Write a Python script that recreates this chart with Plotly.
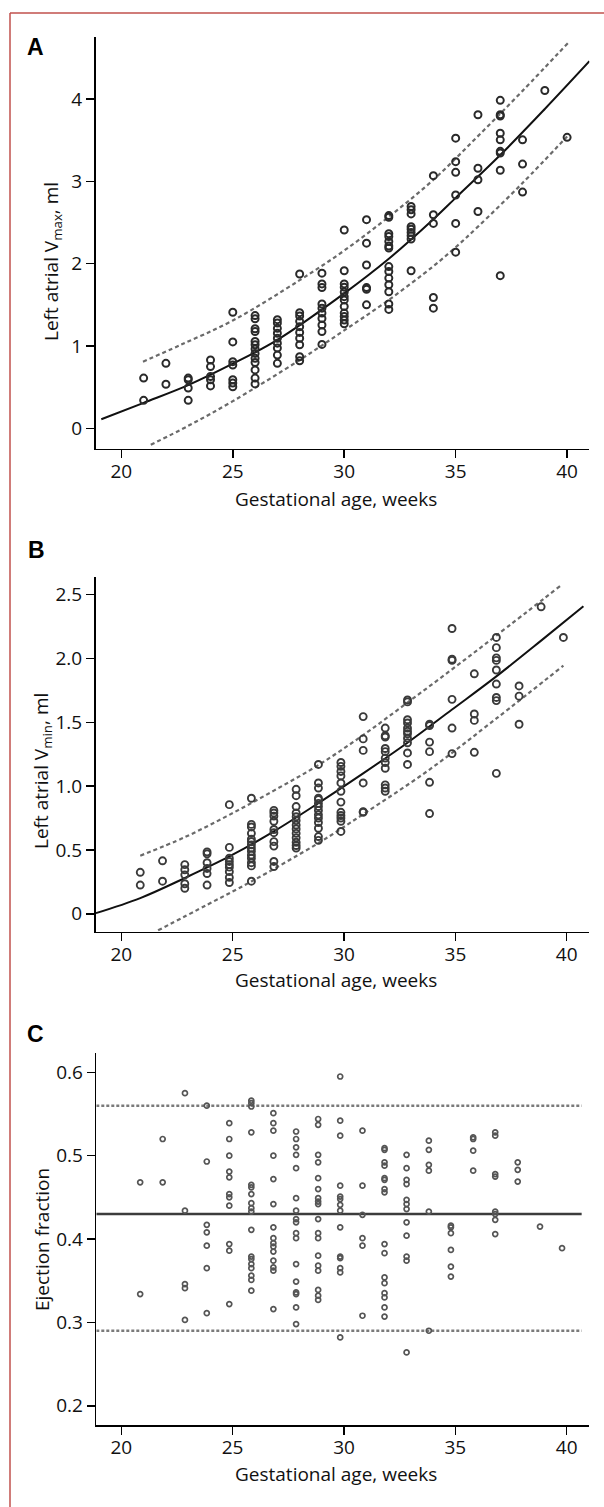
import plotly.graph_objects as go

W, H = 604, 1507

# ---------------- Panel A data (Left atrial Vmax) ----------------
A_weeks = [21, 22, 23, 24, 25, 26, 27, 28, 29, 30, 31, 32, 33, 34, 35, 36, 37, 38, 39, 40]
A_values = [
    [0.61, 0.34],
    [0.79, 0.535],
    [0.61, 0.59, 0.49, 0.34],
    [0.83, 0.75, 0.63, 0.59, 0.515],
    [1.41, 1.05, 0.81, 0.77, 0.59, 0.55, 0.505],
    [1.37, 1.33, 1.21, 1.175, 1.055, 1.015, 0.965, 0.91, 0.85, 0.80, 0.71, 0.61, 0.54],
    [1.32, 1.28, 1.215, 1.155, 1.095, 1.035, 0.975, 0.89, 0.79],
    [1.875, 1.405, 1.365, 1.30, 1.235, 1.165, 1.095, 1.015, 0.87, 0.82],
    [1.885, 1.755, 1.71, 1.51, 1.46, 1.40, 1.335, 1.255, 1.175, 1.02],
    [2.41, 1.915, 1.755, 1.715, 1.655, 1.60, 1.56, 1.48, 1.40, 1.36, 1.315, 1.27],
    [2.535, 2.25, 1.985, 1.71, 1.69, 1.50],
    [2.585, 2.565, 2.365, 2.33, 2.27, 2.215, 2.19, 1.965, 1.905, 1.825, 1.745, 1.66, 1.51, 1.445],
    [2.695, 2.655, 2.605, 2.45, 2.42, 2.38, 2.34, 2.30, 1.915],
    [3.07, 2.595, 2.49, 1.59, 1.46],
    [3.525, 3.24, 3.11, 2.835, 2.49, 2.14],
    [3.81, 3.16, 3.02, 2.635],
    [3.985, 3.81, 3.795, 3.585, 3.505, 3.365, 3.345, 3.135, 1.855],
    [3.505, 3.21, 2.87],
    [4.105],
    [3.535],
]
A_fit_x = [19.10, 21, 23, 25, 27, 30, 32, 34, 35, 37, 39, 41.0]
A_fit_y = [0.11, 0.31, 0.525, 0.785, 1.075, 1.64, 2.06, 2.54, 2.80, 3.32, 3.88, 4.46]
A_up_x = [20.97, 22.63, 25, 28, 30, 32, 34, 36, 38, 40.07]
A_up_y = [0.81, 1.01, 1.31, 1.80, 2.16, 2.57, 3.02, 3.55, 4.10, 4.69]
A_lo_x = [21.32, 23, 25, 28, 30, 32, 34, 35, 36, 38, 40.0]
A_lo_y = [-0.20, 0.03, 0.33, 0.83, 1.19, 1.56, 1.97, 2.20, 2.45, 2.98, 3.546]

# ---------------- Panel B data (Left atrial Vmin) ----------------
B_weeks = [20.85, 21.85, 22.85, 23.85, 24.85, 25.84, 26.85, 27.85, 28.85, 29.86,
           30.86, 31.85, 32.85, 33.84, 34.85, 35.85, 36.84, 37.86, 38.85, 39.85]
B_values = [
    [0.325, 0.225],
    [0.415, 0.255],
    [0.385, 0.345, 0.305, 0.235, 0.20],
    [0.485, 0.47, 0.40, 0.355, 0.315, 0.225],
    [0.855, 0.52, 0.435, 0.41, 0.385, 0.365, 0.33, 0.285, 0.245],
    [0.905, 0.70, 0.68, 0.63, 0.585, 0.565, 0.54, 0.515, 0.49, 0.46, 0.435, 0.40, 0.375, 0.255],
    [0.81, 0.79, 0.765, 0.725, 0.66, 0.635, 0.565, 0.53, 0.41, 0.37],
    [0.975, 0.925, 0.84, 0.79, 0.76, 0.73, 0.695, 0.665, 0.63, 0.595, 0.56, 0.535, 0.515],
    [1.17, 1.025, 0.985, 0.905, 0.895, 0.865, 0.84, 0.81, 0.775, 0.75, 0.715, 0.67, 0.605, 0.575],
    [1.185, 1.155, 1.115, 1.08, 1.025, 0.96, 0.875, 0.795, 0.77, 0.75, 0.725, 0.645],
    [1.545, 1.37, 1.28, 1.025, 0.80, 0.795],
    [1.455, 1.395, 1.385, 1.295, 1.27, 1.22, 1.185, 1.14, 1.01, 0.985, 0.96],
    [1.675, 1.66, 1.52, 1.495, 1.455, 1.43, 1.41, 1.375, 1.34, 1.26, 1.17],
    [1.485, 1.475, 1.345, 1.27, 1.03, 0.785],
    [2.235, 1.995, 1.985, 1.68, 1.455, 1.255],
    [1.88, 1.565, 1.515, 1.265],
    [2.165, 2.085, 2.005, 1.985, 1.91, 1.80, 1.695, 1.67, 1.10],
    [1.785, 1.705, 1.485],
    [2.405],
    [2.165],
]
B_fit_x = [18.86, 20.85, 22.85, 24.85, 26.85, 28.85, 30.86, 32.85, 34.85, 36.84, 38.85, 40.75]
B_fit_y = [0.005, 0.123, 0.28, 0.449, 0.645, 0.867, 1.10, 1.34, 1.60, 1.86, 2.14, 2.41]
B_up_x = [20.85, 22.85, 24.85, 26.85, 28.85, 30.86, 32.85, 34.85, 36.84, 39.78]
B_up_y = [0.455, 0.60, 0.775, 0.965, 1.165, 1.40, 1.655, 1.915, 2.18, 2.578]
B_lo_x = [21.65, 23.85, 25.84, 28.85, 30.86, 33.84, 36.84, 39.85]
B_lo_y = [-0.13, 0.07, 0.253, 0.554, 0.78, 1.13, 1.53, 1.944]

# ---------------- Panel C data (Ejection fraction) ----------------
C_weeks = [20.85, 21.86, 22.86, 23.84, 24.85, 25.84, 26.83, 27.85, 28.84, 29.83,
           30.83, 31.82, 32.81, 33.81, 34.8, 35.8, 36.79, 37.8, 38.8, 39.79]
C_values = [
    [0.468, 0.334],
    [0.52, 0.468],
    [0.575, 0.434, 0.346, 0.341, 0.303],
    [0.56, 0.493, 0.417, 0.408, 0.392, 0.365, 0.311],
    [0.539, 0.52, 0.5, 0.481, 0.474, 0.454, 0.45, 0.44, 0.394, 0.386, 0.322],
    [0.566, 0.563, 0.559, 0.528, 0.465, 0.462, 0.454, 0.443, 0.437, 0.433, 0.411, 0.379,
     0.376, 0.37, 0.365, 0.356, 0.351, 0.338],
    [0.551, 0.539, 0.53, 0.5, 0.472, 0.442, 0.414, 0.401, 0.395, 0.391, 0.385, 0.374,
     0.366, 0.362, 0.316],
    [0.529, 0.52, 0.51, 0.501, 0.485, 0.449, 0.434, 0.424, 0.42, 0.407, 0.401, 0.37,
     0.349, 0.336, 0.334, 0.318, 0.298],
    [0.544, 0.537, 0.501, 0.492, 0.473, 0.46, 0.449, 0.445, 0.442, 0.424, 0.407, 0.401,
     0.38, 0.368, 0.362, 0.339, 0.332, 0.327],
    [0.595, 0.542, 0.524, 0.464, 0.451, 0.448, 0.441, 0.434, 0.414, 0.379, 0.377, 0.365,
     0.36, 0.282],
    [0.53, 0.464, 0.429, 0.401, 0.392, 0.308],
    [0.509, 0.507, 0.492, 0.488, 0.473, 0.471, 0.46, 0.456, 0.394, 0.383, 0.354, 0.347,
     0.335, 0.33, 0.318, 0.307],
    [0.501, 0.485, 0.471, 0.466, 0.447, 0.442, 0.436, 0.42, 0.404, 0.379, 0.374, 0.264],
    [0.518, 0.507, 0.489, 0.482, 0.433, 0.29],
    [0.416, 0.414, 0.407, 0.387, 0.367, 0.355],
    [0.522, 0.52, 0.506, 0.482],
    [0.528, 0.524, 0.478, 0.475, 0.433, 0.43, 0.423, 0.406],
    [0.492, 0.483, 0.469],
    [0.415],
    [0.389],
]
C_line_x = [18.88, 40.67]
C_mean_y = [0.43, 0.43]
C_upper_y = [0.56, 0.56]
C_lower_y = [0.29, 0.29]

# tick labels
A_yticks = [0, 1, 2, 3, 4]
B_yticks = [0, 0.5, 1.0, 1.5, 2.0, 2.5]
B_ytick_text = ["0", "0.5", "1.0", "1.5", "2.0", "2.5"]
C_yticks = [0.2, 0.3, 0.4, 0.5, 0.6]
C_ytick_text = ["0.2", "0.3", "0.4", "0.5", "0.6"]
x_ticks = [20, 25, 30, 35, 40]


def flat(weeks, values):
    xs, ys = [], []
    for w, vals in zip(weeks, values):
        for v in vals:
            xs.append(w)
            ys.append(v)
    return xs, ys


FONT = "Open Sans"
fig = go.Figure()

dash_style = dict(color="#6a6a6a", width=2.2, dash="4px,3px")
mean_style = dict(color="#111111", width=2)

# Panel A
fig.add_trace(go.Scatter(x=A_up_x, y=A_up_y, mode="lines", line=dict(shape="spline", **dash_style), xaxis="x", yaxis="y"))
fig.add_trace(go.Scatter(x=A_lo_x, y=A_lo_y, mode="lines", line=dict(shape="spline", **dash_style), xaxis="x", yaxis="y"))
fig.add_trace(go.Scatter(x=A_fit_x, y=A_fit_y, mode="lines", line=dict(shape="spline", **mean_style), xaxis="x", yaxis="y"))
ax, ay = flat(A_weeks, A_values)
fig.add_trace(go.Scatter(x=ax, y=ay, mode="markers",
                         marker=dict(symbol="circle-open", size=7, line=dict(width=2, color="#2a2a2a"), color="#2a2a2a"),
                         xaxis="x", yaxis="y"))

# Panel B
fig.add_trace(go.Scatter(x=B_up_x, y=B_up_y, mode="lines", line=dict(shape="spline", **dash_style), xaxis="x2", yaxis="y2"))
fig.add_trace(go.Scatter(x=B_lo_x, y=B_lo_y, mode="lines", line=dict(shape="spline", **dash_style), xaxis="x2", yaxis="y2"))
fig.add_trace(go.Scatter(x=B_fit_x, y=B_fit_y, mode="lines", line=dict(shape="spline", **mean_style), xaxis="x2", yaxis="y2"))
bx, by = flat(B_weeks, B_values)
fig.add_trace(go.Scatter(x=bx, y=by, mode="markers",
                         marker=dict(symbol="circle-open", size=7, line=dict(width=1.9, color="#3a3a3a"), color="#3a3a3a"),
                         xaxis="x2", yaxis="y2"))

# Panel C
fig.add_trace(go.Scatter(x=C_line_x, y=C_upper_y, mode="lines", line=dict(color="#7a7a7a", width=2.6, dash="3px,2px"), xaxis="x3", yaxis="y3"))
fig.add_trace(go.Scatter(x=C_line_x, y=C_lower_y, mode="lines", line=dict(color="#7a7a7a", width=2.6, dash="3px,2px"), xaxis="x3", yaxis="y3"))
fig.add_trace(go.Scatter(x=C_line_x, y=C_mean_y, mode="lines", line=dict(color="#3c3c3c", width=2.6), xaxis="x3", yaxis="y3"))
cx, cy = flat(C_weeks, C_values)
fig.add_trace(go.Scatter(x=cx, y=cy, mode="markers",
                         marker=dict(symbol="circle-open", size=5, line=dict(width=1.7, color="#555555"), color="#555555"),
                         xaxis="x3", yaxis="y3"))


def px_x(p):
    return p / W


def px_y(p):
    return 1 - p / H


axis_common = dict(showline=True, linecolor="#000000", linewidth=1.6, ticks="outside", ticklen=8,
                   tickwidth=1.5, tickcolor="#000000", showgrid=False, zeroline=False,
                   tickfont=dict(family=FONT, size=19, color="#111111"), fixedrange=True)
xaxis_common = dict(axis_common, ticklabelstandoff=-3)

layout = dict(
    width=W, height=H, margin=dict(l=0, r=0, t=0, b=0),
    paper_bgcolor="white", plot_bgcolor="white", showlegend=False, hovermode=False,
    xaxis=dict(domain=[px_x(95.5), px_x(589.4)], range=[18.84, 41.0], tickvals=x_ticks, anchor="y", **xaxis_common),
    yaxis=dict(domain=[px_y(448.5), px_y(36.7)], range=[-0.245, 4.758], tickvals=A_yticks, anchor="x", **axis_common),
    xaxis2=dict(domain=[px_x(95.5), px_x(589.0)], range=[18.84, 41.0], tickvals=x_ticks, anchor="y2", **xaxis_common),
    yaxis2=dict(domain=[px_y(931.7), px_y(576.7)], range=[-0.1406, 2.641], tickvals=B_yticks,
                ticktext=B_ytick_text, anchor="x2", **axis_common),
    xaxis3=dict(domain=[px_x(96.3), px_x(589.0)], range=[18.88, 41.0], tickvals=x_ticks, anchor="y3", **xaxis_common),
    yaxis3=dict(domain=[px_y(1425), px_y(1053)], range=[0.1769, 0.6232], tickvals=C_yticks,
                ticktext=C_ytick_text, anchor="x3", **axis_common),
)
fig.update_layout(**layout)

title_font = dict(family=FONT, size=19, color="#111111")
label_font = dict(family="Liberation Sans", size=23, color="#000000")
annots = [
    ("<b>A</b>", 35, 47, 0, label_font),
    ("<b>B</b>", 36, 550, 0, label_font),
    ("<b>C</b>", 35, 1034, 0, label_font),
    ("Gestational age, weeks", 336, 499, 0, title_font),
    ("Gestational age, weeks", 336, 980, 0, title_font),
    ("Gestational age, weeks", 336, 1474, 0, title_font),
    ("Left atrial V<sub>max</sub>, ml", 52, 262, -90, title_font),
    ("Left atrial V<sub>min</sub>, ml", 42, 771, -90, title_font),
    ("Ejection fraction", 42, 1240, -90, title_font),
]
for text, xp, yp, ang, f in annots:
    fig.add_annotation(text=text, x=px_x(xp), y=px_y(yp), xref="paper", yref="paper",
                       xanchor="center", yanchor="middle", showarrow=False, textangle=ang, font=f)

# red frame (top and left edges)
border = "#c0504d"
fig.add_shape(type="line", xref="paper", yref="paper", x0=px_x(10), x1=1.0, y0=px_y(13), y1=px_y(13),
              line=dict(color=border, width=1.5))
fig.add_shape(type="line", xref="paper", yref="paper", x0=px_x(10), x1=px_x(10), y0=0, y1=px_y(13),
              line=dict(color=border, width=1.5))

fig.write_html("out.html", config=dict(displayModeBar=False, staticPlot=True),
               post_script="document.body.style.margin='0';document.body.style.padding='0';"
                           "document.body.style.overflow='hidden';")
